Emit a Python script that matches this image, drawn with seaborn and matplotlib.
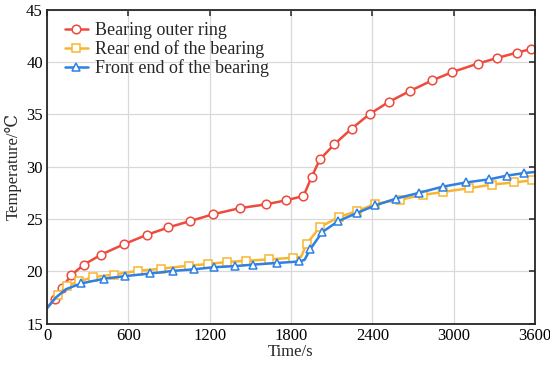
import matplotlib
matplotlib.use('Agg')
import matplotlib.pyplot as plt
import pandas as pd
import seaborn as sns

# values (time in s, temperature in C)
t_outer = [0, 57, 111, 179, 273, 399, 568, 738, 895, 1053, 1223, 1424, 1614, 1766,
           1892, 1953, 2013, 2120, 2248, 2381, 2522, 2679, 2841, 2991, 3176, 3323, 3464, 3572, 3600]
T_outer = [16.5, 17.35, 18.45, 19.65, 20.65, 21.6, 22.6, 23.5, 24.2, 24.8, 25.45, 26.05, 26.4, 26.8,
           27.2, 29.05, 30.7, 32.15, 33.65, 35.05, 36.2, 37.25, 38.25, 39.05, 39.85, 40.4, 40.9, 41.25, 41.3]

t_rear = [0, 79, 145, 236, 342, 494, 669, 839, 1046, 1188, 1326, 1466, 1636, 1813, 1875,
          1916, 2015, 2155, 2285, 2421, 2603, 2773, 2925, 3114, 3284, 3446, 3577, 3600]
T_rear = [16.5, 17.75, 18.6, 19.05, 19.45, 19.7, 20.05, 20.25, 20.55, 20.7, 20.9, 21.0, 21.15, 21.3, 21.4,
          22.65, 24.25, 25.2, 25.75, 26.45, 26.85, 27.3, 27.6, 27.95, 28.3, 28.5, 28.7, 28.75]

t_front = [0, 65, 140, 253, 421, 578, 763, 932, 1085, 1232, 1387, 1523, 1695, 1862, 1900,
           1941, 2030, 2148, 2290, 2421, 2573, 2743, 2920, 3092, 3264, 3393, 3520, 3600]
T_front = [16.5, 17.5, 18.3, 18.85, 19.3, 19.55, 19.8, 20.05, 20.2, 20.4, 20.5, 20.65, 20.8, 20.95, 21.1,
           22.1, 23.75, 24.8, 25.6, 26.3, 26.95, 27.5, 28.1, 28.5, 28.8, 29.15, 29.4, 29.5]

# which points get a marker (the rest only shape the line)
mark_outer = list(range(1, 28))
mark_rear = [i for i in range(1, 27) if i != 14]
mark_front = [i for i in range(3, 27) if i != 14]

labels = ['Bearing outer ring', 'Rear end of the bearing', 'Front end of the bearing']
colors = ['#EE4A3D', '#F8B630', '#2E80E3']
markers = ['o', 's', '^']

sns.set_style('white')
plt.rcParams['font.family'] = ['Liberation Serif', 'DejaVu Serif']

fig, ax = plt.subplots(figsize=(5.5, 3.67), dpi=100)
fig.subplots_adjust(left=0.0855, right=0.9727, top=0.9733, bottom=0.118)

series = [(t_outer, T_outer, mark_outer), (t_rear, T_rear, mark_rear), (t_front, T_front, mark_front)]
for (t, T, mk), lab, c, m in zip(series, labels, colors, markers):
    df = pd.DataFrame({'Time': t, 'Temp': T})
    ms = 6.2 if m == 'o' else 5.2
    sns.lineplot(data=df, x='Time', y='Temp', ax=ax, color=c, lw=1.8, label=lab,
                 marker=m, markevery=mk, markersize=ms, markerfacecolor='white',
                 markeredgecolor=c, markeredgewidth=1.1)

ax.set_xlim(0, 3600)
ax.set_ylim(15, 45)
ax.set_xticks(range(0, 3601, 600))
ax.set_yticks(range(15, 46, 5))
ax.grid(True, color='#d9d9d9', lw=0.9)
ax.set_axisbelow(True)
ax.tick_params(direction='in', length=4, width=1.1, top=True, right=True,
               labelsize=12, colors='#222222', labelcolor='black', pad=3)
for s in ax.spines.values():
    s.set_color('#262626')
    s.set_linewidth(1.3)

ax.set_xlabel('Time/s', fontsize=12, labelpad=0)
ax.set_ylabel('Temperature/℃', fontsize=12, labelpad=3)

ax.legend(loc='upper left', frameon=False, fontsize=13, handlelength=1.3,
          handletextpad=0.4, labelspacing=0.05, borderaxespad=0.3,
          bbox_to_anchor=(0.01, 1.0))

fig.savefig('out.png', dpi=100)
